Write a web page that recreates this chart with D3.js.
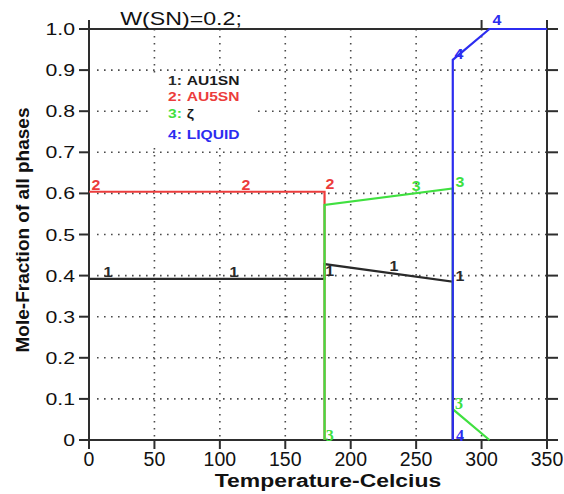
<!DOCTYPE html>
<html>
<head>
<meta charset="utf-8">
<script src="https://cdn.jsdelivr.net/npm/d3@7"></script>
<style>
  html, body { margin: 0; padding: 0; background: #fff; }
  svg { display: block; }
</style>
</head>
<body>
<script>
// Mole fraction of each phase against temperature, W(SN)=0.2
const au1snT = [0, 180, 180, 278, 278];
const au1snF = [0.392, 0.392, 0.428, 0.385, 0];
const au5snT = [0, 180, 180];
const au5snF = [0.604, 0.604, 0];
const zetaT = [180, 180, 278, 278, 306];
const zetaF = [0, 0.572, 0.612, 0.075, 0];
const liquidT = [278, 278, 306, 350];
const liquidF = [0, 0.925, 1.0, 1.0];

const seriesNames = ["AU1SN", "AU5SN", "ζ", "LIQUID"];
const seriesColors = ["#2a2a2a", "#ec3c3c", "#40e040", "#2c2cf0"];
const legendNameColors = ["#1a1a1a", "#ec3c3c", "#1a1a1a", "#2c2cf0"];

const xTicks = [0, 50, 100, 150, 200, 250, 300, 350];
const xTickLabels = ["0", "50", "100", "150", "200", "250", "300", "350"];
const topTicks = [0, 300, 350];
const yTicks = [0, 0.1, 0.2, 0.3, 0.4, 0.5, 0.6, 0.7, 0.8, 0.9, 1.0];
const yTickLabels = ["0", "0.1", "0.2", "0.3", "0.4", "0.5", "0.6", "0.7", "0.8", "0.9", "1.0"];
const xGrid = [50, 100, 150, 200, 250, 300];
const yGrid = [0.1, 0.2, 0.3, 0.4, 0.5, 0.6, 0.7, 0.8, 0.9];

// Curve tags: which series, temperature, fraction, serif face
const tagSeries = [1, 1, 1, 0, 0, 0, 0, 0, 2, 2, 2, 2, 3, 3, 3];
const tagT = [5.3, 120, 184.2, 14.5, 110.8, 184, 233, 283.5, 250, 283.5, 184, 282.7, 283.5, 282.7, 311.8];
const tagF = [0.608, 0.608, 0.611, 0.397, 0.397, 0.399, 0.411, 0.387, 0.606, 0.616, -0.002, 0.075, -0.002, 0.927, 1.01];
const tagSerif = [false, false, false, false, false, false, false, false, false, false, true, true, true, false, false];

const W = 564, H = 494;
const svg = d3.select("body").append("svg").attr("width", W).attr("height", H);

const x = d3.scaleLinear().domain([0, 350]).range([89, 547]);
const y = d3.scaleLinear().domain([0, 1]).range([440, 29]);

const axisColor = "#2e2e2e";
const sans = "'Liberation Sans', Arial, sans-serif";
const serif = "'Liberation Serif', 'Times New Roman', serif";

// text with a horizontal stretch about its anchor point
function stretched(g, px, py, sx, str) {
  return g.append("text")
    .attr("transform", `translate(${px},${py}) scale(${sx},1)`)
    .text(str);
}

// dotted grid
const grid = svg.append("g")
  .attr("stroke", "#4a4a4a").attr("stroke-width", 1.6)
  .attr("stroke-dasharray", "1.6,5.4").attr("fill", "none");
grid.selectAll("line.h").data(yGrid).join("line").attr("class", "h")
  .attr("x1", x(0) + 8).attr("x2", x(350))
  .attr("y1", d => y(d)).attr("y2", d => y(d));
grid.selectAll("line.v").data(xGrid).join("line").attr("class", "v")
  .attr("x1", d => x(d)).attr("x2", d => x(d))
  .attr("y1", y(1)).attr("y2", y(0));

// legend backdrop
svg.append("rect").attr("x", 148).attr("y", 73).attr("width", 110).attr("height", 75).attr("fill", "#fff");

// frame and ticks
const frame = svg.append("g").attr("stroke", axisColor).attr("stroke-width", 2).attr("fill", "none");
frame.append("line").attr("x1", x(0) - 9).attr("x2", x(350) + 11).attr("y1", y(1)).attr("y2", y(1));
frame.append("line").attr("x1", x(0) - 9).attr("x2", x(350) + 11).attr("y1", y(0)).attr("y2", y(0));
frame.append("line").attr("x1", x(0)).attr("x2", x(0)).attr("y1", y(1) - 9).attr("y2", y(0) + 9);
frame.append("line").attr("x1", x(350)).attr("x2", x(350)).attr("y1", y(1) - 9).attr("y2", y(0) + 9);
frame.selectAll("line.yl").data(yTicks).join("line").attr("class", "yl")
  .attr("x1", x(0) - 10).attr("x2", x(0)).attr("y1", d => y(d)).attr("y2", d => y(d));
frame.selectAll("line.yr").data(yTicks).join("line").attr("class", "yr")
  .attr("x1", x(350)).attr("x2", x(350) + 11).attr("y1", d => y(d)).attr("y2", d => y(d));
frame.selectAll("line.xb").data(xTicks).join("line").attr("class", "xb")
  .attr("x1", d => x(d)).attr("x2", d => x(d)).attr("y1", y(0)).attr("y2", y(0) + 9);
frame.selectAll("line.xt").data(topTicks).join("line").attr("class", "xt")
  .attr("x1", d => x(d)).attr("x2", d => x(d)).attr("y1", y(1) - 9).attr("y2", y(1));

// tick labels
const yl = svg.append("g").attr("font-family", sans).attr("font-size", 17).attr("fill", "#111").attr("text-anchor", "end");
yTicks.forEach((v, i) => stretched(yl, 75, y(v) + 6, 1.25, yTickLabels[i]));
const xl = svg.append("g").attr("font-family", sans).attr("font-size", 19.5).attr("fill", "#111").attr("text-anchor", "middle");
xTicks.forEach((v, i) => xl.append("text").attr("x", x(v)).attr("y", 466).text(xTickLabels[i]));

// titles
const tg = svg.append("g").attr("font-family", sans).attr("fill", "#111").attr("text-anchor", "middle");
stretched(tg, 181, 25, 1.22, "W(SN)=0.2;").attr("font-size", 19);
stretched(tg, 328, 487, 1.24, "Temperature-Celcius").attr("font-size", 18.5).attr("font-weight", "bold");
tg.append("text").attr("transform", "translate(29,230) rotate(-90)")
  .attr("font-size", 19).attr("font-weight", "bold").text("Mole-Fraction of all phases");

// phase curves
const line = d3.line().x(d => x(d[0])).y(d => y(d[1]));
const curves = [
  d3.zip(au1snT, au1snF),
  d3.zip(au5snT, au5snF),
  d3.zip(zetaT, zetaF),
  d3.zip(liquidT, liquidF)
];
svg.append("g").selectAll("path").data(curves).join("path")
  .attr("d", line).attr("fill", "none")
  .attr("stroke", (d, i) => seriesColors[i]).attr("stroke-width", 2.2)
  .attr("stroke-linejoin", "miter");

// curve tags
const tags = svg.append("g").attr("font-weight", "bold").attr("text-anchor", "middle");
tagSeries.forEach((s, i) => {
  stretched(tags, x(tagT[i]), y(tagF[i]), tagSerif[i] ? 1.0 : 1.1, String(s + 1))
    .attr("fill", seriesColors[s])
    .attr("font-family", tagSerif[i] ? serif : sans)
    .attr("font-size", tagSerif[i] ? 16 : 14.5);
});

// legend
const lg = svg.append("g").attr("font-family", sans).attr("font-size", 13).attr("font-weight", "bold");
const legendY = [85, 101, 118, 139];
seriesNames.forEach((n, i) => {
  const t = stretched(lg, 168, legendY[i], 1.2, "");
  t.append("tspan").attr("fill", seriesColors[i]).text((i + 1) + ":");
  t.append("tspan").attr("dx", 4).attr("fill", legendNameColors[i]).text(n);
});
</script>
</body>
</html>
